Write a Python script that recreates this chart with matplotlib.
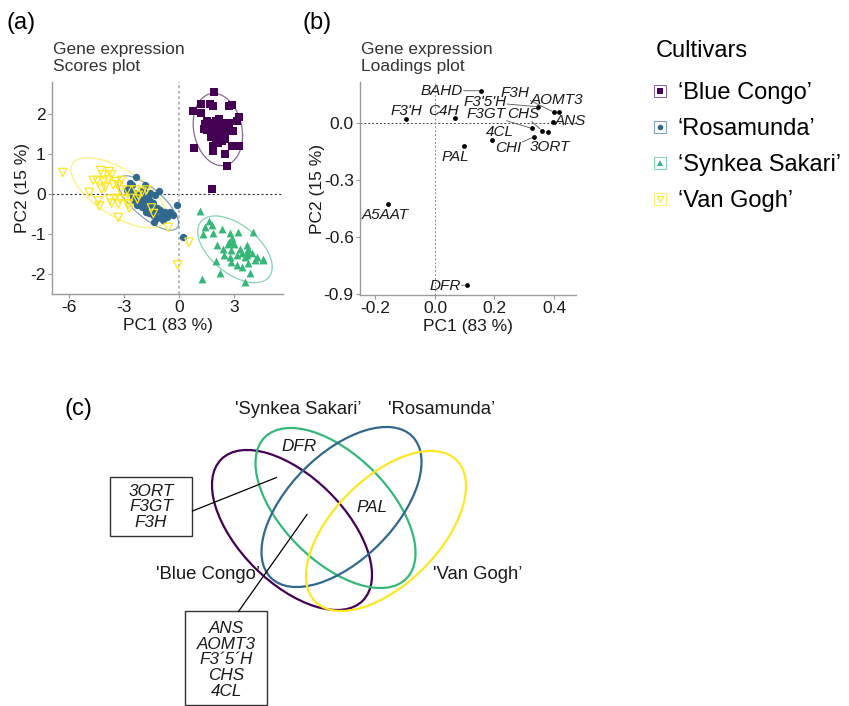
import numpy as np
import matplotlib
matplotlib.use("Agg")
import matplotlib.pyplot as plt
from matplotlib.lines import Line2D
from matplotlib.patches import Ellipse, Rectangle
from matplotlib.legend_handler import HandlerTuple

plt.rcParams['font.family'] = ['Liberation Sans', 'DejaVu Sans']
plt.rcParams['axes.unicode_minus'] = False

# PCA scores per cultivar (PC1, PC2)
bc_pc1 = [1.92, 1.18, 1.68, 1.83, 0.74, 1.20, 2.70, 2.86, 3.28, 3.13, 2.17, 2.01, 1.54, 1.41, 1.65,
          1.96, 2.32, 2.55, 2.74, 1.36, 1.54, 1.78, 2.05, 2.41, 2.23, 2.59, 1.87, 2.14, 2.45, 2.92,
          1.74, 2.01, 2.32, 2.50, 2.14, 0.83, 1.87, 2.86, 3.28, 1.87, 2.50, 2.61, 1.78]
bc_pc2 = [2.57, 2.26, 2.26, 2.22, 2.09, 2.03, 2.22, 2.23, 1.93, 1.82, 1.88, 1.84, 1.82, 1.76, 1.73,
          1.78, 1.79, 1.76, 1.79, 1.62, 1.61, 1.65, 1.61, 1.61, 1.52, 1.57, 1.48, 1.44, 1.46, 1.57,
          1.42, 1.36, 1.33, 1.37, 1.27, 1.16, 1.21, 1.21, 1.21, 1.08, 1.01, 0.71, 0.12]

ro_pc1 = [-2.34, -2.66, -2.57, -2.72, -2.63, -2.39, -2.08, -1.85, -1.58, -1.07, -1.30, -1.67, -1.94,
          -2.26, -2.48, -2.12, -1.85, -1.58, -2.52, -1.76, -2.03, -1.49, -1.39, -1.21, -1.58, -1.30,
          -1.03, -0.76, -0.49, -0.31, -0.94, -1.18, -1.43, -0.85, -0.67, -1.36, -1.61, -0.13, 0.24,
          -1.81, -2.26, -2.81, -1.97]
ro_pc2 = [0.42, 0.28, 0.23, 0.14, 0.06, 0.02, 0.02, 0.23, 0.02, 0.08, -0.03, -0.07, -0.11,
          -0.07, -0.07, -0.18, -0.21, -0.18, -0.15, -0.28, -0.32, -0.32, -0.23, -0.36, -0.40, -0.44,
          -0.40, -0.44, -0.44, -0.53, -0.53, -0.61, -0.53, -0.65, -0.57, -0.70, -0.47, -0.28, -1.07,
          -0.44, -0.28, 0.10, 0.10]

sy_pc1 = [1.14, 1.65, 1.78, 1.41, 1.87, 1.32, 2.32, 2.77, 3.22, 4.00, 2.86, 2.74, 2.95, 2.05,
          2.41, 2.81, 3.32, 3.68, 3.77, 2.45, 2.77, 3.13, 3.41, 3.68, 3.95, 4.22, 4.58, 3.59,
          2.01, 2.81, 3.13, 3.41, 3.77, 4.13, 4.58, 2.23, 3.86, 3.59, 1.23, 2.99, 2.68, 3.71]
sy_pc2 = [-0.42, -0.67, -0.78, -0.84, -0.99, -1.01, -0.89, -0.99, -0.95, -0.95, -1.11, -1.20,
          -1.24, -1.28, -1.37, -1.41, -1.39, -1.28, -1.37, -1.53, -1.57, -1.53, -1.49, -1.45,
          -1.49, -1.57, -1.62, -1.57, -1.68, -1.70, -1.78, -1.83, -1.74, -1.66, -1.66, -1.98,
          -1.98, -2.20, -2.14, -1.26, -1.26, -1.53]

vg_pc1 = [-6.32, -4.26, -3.79, -4.15, -3.66, -4.66, -4.44, -4.11, -3.84, -3.42, -3.12, -3.30,
          -3.57, -4.02, -4.20, -4.87, -3.21, -2.81, -2.34, -4.38, -3.75, -3.48, -3.21, -2.93,
          -2.66, -2.26, -4.33, -3.66, -3.30, -2.75, -2.70, -2.21, -3.30, -1.39, -0.58, 0.54,
          -0.07, -1.76, -2.00, -1.50]
vg_pc2 = [0.54, 0.59, 0.56, 0.48, 0.48, 0.34, 0.34, 0.34, 0.35, 0.31, 0.34, 0.23, 0.23, 0.17,
          0.12, 0.04, 0.10, 0.10, 0.10, -0.17, -0.13, -0.11, -0.13, -0.13, -0.11, -0.13, -0.30,
          -0.23, -0.25, -0.25, -0.36, -0.03, -0.59, -0.49, -0.84, -1.21, -1.78, 0.10, 0.05, -0.35]

cultivars = ["\u2018Blue Congo\u2019", "\u2018Rosamunda\u2019", "\u2018Synkea Sakari\u2019", "\u2018Van Gogh\u2019"]
colors = ['#440154', '#31688E', '#35B779', '#FDE725']
markers = ['s', 'o', '^', 'v']
marker_sizes = [26, 28, 32, 36]

# loadings
genes = ['BAHD', 'F3H', 'AOMT3', 'ANS', "F3'5'H", "F3'H", 'C4H', 'F3GT', 'CHS', '3ORT',
         'CHI', '4CL', 'PAL', 'A5AAT', 'DFR']
load_pc1 = [0.155, 0.401, 0.418, 0.398, 0.347, -0.099, 0.067, 0.325, 0.359, 0.381,
            0.333, 0.193, 0.097, -0.159, 0.106]
load_pc2 = [0.170, 0.056, 0.056, 0.007, 0.086, 0.021, 0.025, -0.028, -0.040, -0.046,
            -0.072, -0.089, -0.121, -0.428, -0.853]
# repelled label positions
lab_x = [0.022, 0.269, 0.409, 0.454, 0.168, -0.097, 0.028, 0.172, 0.297, 0.387,
         0.247, 0.218, 0.067, -0.168, 0.034]
lab_y = [0.170, 0.158, 0.121, 0.012, 0.110, 0.065, 0.065, 0.045, 0.049, -0.128,
         -0.133, -0.046, -0.177, -0.484, -0.858]

# Venn diagram: set names and genes in the regions
venn_sets = ["'Blue Congo\u2019", "'Synkea Sakari\u2019", "'Rosamunda\u2019", "'Van Gogh\u2019"]
venn_colors = ['#440154', '#35B779', '#31688E', '#FDE725']
only_synkea = ['DFR']
ros_syn_vg = ['PAL']
bc_syn = ['3ORT', 'F3GT', 'F3H']
bc_syn_ros = ['ANS', 'AOMT3', 'F3\u00b45\u00b4H', 'CHS', '4CL']

W, H = 849, 706
fig = plt.figure(figsize=(W / 100, H / 100), dpi=100)


def fx(px):
    return px / W


def fy(py):
    return 1 - py / H


def trob_ellipse(x, y, radius=2.54, nu=5, n_pts=200):
    # robust t covariance, then confidence ellipse around the location
    X = np.column_stack([x, y])
    n, p = X.shape
    loc = X.mean(axis=0)
    w = np.ones(n)
    for _ in range(100):
        d = X - loc
        cov = (w[:, None] * d).T @ d / n
        md = np.einsum('ij,jk,ik->i', d, np.linalg.inv(cov), d)
        w = (nu + p) / (nu + md)
        loc = (w[:, None] * X).sum(axis=0) / w.sum()
    t = np.linspace(0, 2 * np.pi, n_pts)
    circle = np.column_stack([np.cos(t), np.sin(t)])
    chol = np.linalg.cholesky(cov).T
    pts = loc + radius * circle @ chol
    return pts[:, 0], pts[:, 1]


def style_axes(ax):
    for s in ['top', 'right']:
        ax.spines[s].set_visible(False)
    for s in ['left', 'bottom']:
        ax.spines[s].set_color('#9a9a9a')
        ax.spines[s].set_linewidth(1.0)
    ax.tick_params(colors='#9a9a9a', labelcolor='#1a1a1a', labelsize=12.5,
                   length=3, width=0.8, pad=1.5)


# (a) scores plot
ax_a = fig.add_axes([fx(52), fy(294), fx(283) - fx(52), fy(82) - fy(294)])
scores = [(bc_pc1, bc_pc2), (ro_pc1, ro_pc2), (sy_pc1, sy_pc2), (vg_pc1, vg_pc2)]
ax_a.axhline(0, color='#333333', lw=0.8, ls=(0, (2, 2)), zorder=1)
ax_a.axvline(0, color='#b0b0b0', lw=1.3, ls=(0, (1.5, 1.5)), zorder=1)
for (px_, py_), c, m, ms in zip(scores, colors, markers, marker_sizes):
    ex, ey = trob_ellipse(px_, py_)
    ax_a.plot(ex, ey, color=c, lw=0.9, alpha=0.6, zorder=2)
    if m == 'v':
        ax_a.scatter(px_, py_, marker=m, s=ms, facecolors='none', edgecolors=c, linewidths=0.9, zorder=3)
    else:
        ax_a.scatter(px_, py_, marker=m, s=ms, color=c, linewidths=0, zorder=3)
ax_a.set_xlim(-6.9, 5.65)
ax_a.set_ylim(-2.51, 2.81)
ax_a.set_xticks([-6, -3, 0, 3])
ax_a.set_yticks([-2, -1, 0, 1, 2])
style_axes(ax_a)
ax_a.set_xlabel('PC1 (83 %)', fontsize=12.5, color='#1a1a1a', labelpad=2)
ax_a.set_ylabel('PC2 (15 %)', fontsize=12.5, color='#1a1a1a', labelpad=0)

# (b) loadings plot
ax_b = fig.add_axes([fx(360), fy(295), fx(576) - fx(360), fy(82) - fy(295)])
ax_b.axhline(0, color='#444444', lw=0.7, ls=(0, (2, 2)), zorder=1)
ax_b.axvline(0, color='#888888', lw=0.7, ls=(0, (2, 2)), zorder=1)
ax_b.scatter(load_pc1, load_pc2, s=6, color='black', zorder=3)
ax_b.set_xlim(-0.252, 0.474)
ax_b.set_ylim(-0.905, 0.216)
ax_b.set_xticks([-0.2, 0.0, 0.2, 0.4])
ax_b.set_xticklabels(['-0.2', '0.0', '0.2', '0.4'])
ax_b.set_yticks([-0.9, -0.6, -0.3, 0.0])
ax_b.set_yticklabels(['-0.9', '-0.6', '-0.3', '0.0'])
style_axes(ax_b)
ax_b.set_xlabel('PC1 (83 %)', fontsize=12.5, color='#1a1a1a', labelpad=2)
ax_b.set_ylabel('PC2 (15 %)', fontsize=12.5, color='#1a1a1a', labelpad=-1)

for g, x0, y0, lx, ly in zip(genes, load_pc1, load_pc2, lab_x, lab_y):
    p0 = ax_b.transData.transform((x0, y0))
    p1 = ax_b.transData.transform((lx, ly))
    far = np.hypot(*(p0 - p1)) > 18
    ax_b.annotate(g, xy=(x0, y0), xytext=(lx, ly), ha='center', va='center',
                  fontsize=11, style='italic', color='#1a1a1a', zorder=4,
                  bbox=dict(boxstyle='square,pad=0.05', fc='none', ec='none'),
                  arrowprops=dict(arrowstyle='-', color='#555555', lw=0.6,
                                  shrinkA=0, shrinkB=1.5) if far else None)

# panel letters and titles
fig.text(fx(6), fy(23), '(a)', fontsize=17, va='center', ha='left')
fig.text(fx(302), fy(23), '(b)', fontsize=17, va='center', ha='left')
fig.text(fx(53), fy(42), 'Gene expression\nScores plot', fontsize=12.5, va='top', ha='left',
         color='#333333', linespacing=1.2)
fig.text(fx(361), fy(42), 'Gene expression\nLoadings plot', fontsize=12.5, va='top', ha='left',
         color='#333333', linespacing=1.2)

# legend
handles = []
for c, m in zip(colors, markers):
    box = Line2D([], [], marker='s', ms=8, mfc='none', mec=c, mew=0.8, alpha=0.6, ls='none')
    if m == 'v':
        mk = Line2D([], [], marker=m, ms=5, mfc='none', mec=c, mew=0.8, ls='none')
    else:
        mk = Line2D([], [], marker=m, ms=4, mfc=c, mec=c, mew=0, ls='none')
    handles.append((box, mk))
fig.text(fx(656), fy(51), 'Cultivars', fontsize=17, va='center', ha='left')
fig.legend(handles, cultivars, loc='upper left',
           bbox_to_anchor=(fx(648), fy(82)), frameon=False, fontsize=17,
           handler_map={tuple: HandlerTuple(ndivide=1)}, borderpad=0, borderaxespad=0,
           handlelength=1.0, handletextpad=0.27, labelspacing=0.6)

# (c) Venn diagram
ax_c = fig.add_axes([0, 0, 1, 340 / H])
ax_c.set_xlim(0, W)
ax_c.set_ylim(H, H - 340)
ax_c.set_aspect('equal')
ax_c.axis('off')

venn_centers = [(292, 530), (335.5, 508), (341.5, 507), (386, 531)]
venn_angles = [45, 45, -45, -45]
for (cx, cy), ang, c in zip(venn_centers, venn_angles, venn_colors):
    ax_c.add_patch(Ellipse((cx, cy), 200, 106, angle=ang, fill=False, ec=c, lw=1.6))

set_label_pos = [(208, 575), (298, 410), (442, 410), (478, 575)]
for name, (x, y) in zip(venn_sets, set_label_pos):
    ax_c.text(x, y, name, fontsize=13.3, ha='center', va='center', color='#1a1a1a')

ax_c.text(299, 446.5, '\n'.join(only_synkea), fontsize=12.3, style='italic',
          ha='center', va='center', color='#1a1a1a')
ax_c.text(372, 508, '\n'.join(ros_syn_vg), fontsize=12.3, style='italic',
          ha='center', va='center', color='#1a1a1a')

ax_c.add_patch(Rectangle((110, 477.5), 82.5, 59, fill=False, ec='#333333', lw=1.0))
ax_c.text(151, 507, '\n'.join(bc_syn), fontsize=12.3, style='italic', ha='center',
          va='center', linespacing=1.05, color='#1a1a1a')
ax_c.plot([192.5, 276.5], [511, 477.5], color='black', lw=0.9)

ax_c.add_patch(Rectangle((185.5, 611.5), 82, 93.5, fill=False, ec='#333333', lw=1.0))
ax_c.text(226.5, 660, '\n'.join(bc_syn_ros), fontsize=12.3, style='italic', ha='center',
          va='center', linespacing=1.05, color='#1a1a1a')
ax_c.plot([238.5, 307], [611.5, 514.5], color='black', lw=0.9)

fig.text(fx(64), fy(409), '(c)', fontsize=17, va='center', ha='left')

fig.savefig('out.png', dpi=100)
